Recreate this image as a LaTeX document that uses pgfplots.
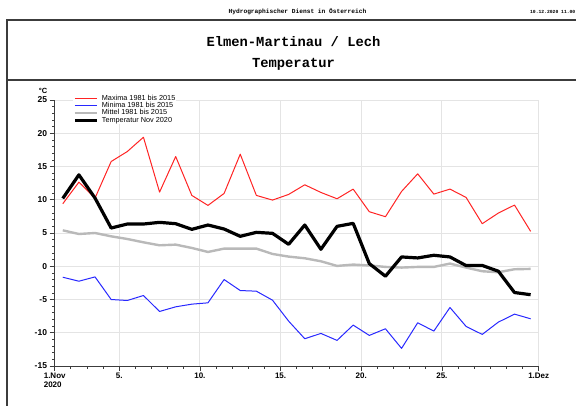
\documentclass[border=0pt]{standalone}
\usepackage{pgfplots}
\pgfplotsset{compat=1.18}
\usepackage{fontspec}
\setmainfont{Liberation Sans}
\newfontfamily\monofont{Liberation Mono}

\definecolor{maxred}{RGB}{255,35,35}
\definecolor{minblue}{RGB}{40,40,255}
\definecolor{meangray}{RGB}{185,185,185}
\definecolor{framegray}{RGB}{60,60,60}
\definecolor{gridgray}{RGB}{228,228,228}

% daily values, plotted at the middle of each day (x = day - 0.5)
\pgfplotstableread{
x     max     min     mean   temp
0.5   9.4    -1.65    5.4    10.2
1.5  12.65   -2.25    4.85   13.75
2.5  10.25   -1.6     5.0    10.25
3.5  15.75   -5.0     4.5     5.75
4.5  17.25   -5.15    4.1     6.35
5.5  19.4    -4.4     3.6     6.35
6.5  11.15   -6.8     3.15    6.6
7.5  16.5    -6.1     3.25    6.4
8.5  10.65   -5.7     2.75    5.55
9.5   9.15   -5.5     2.15    6.2
10.5 10.95   -2.0     2.65    5.6
11.5 16.85   -3.65    2.65    4.5
12.5 10.65   -3.75    2.65    5.1
13.5  9.95   -5.1     1.85    4.95
14.5 10.8    -8.25    1.45    3.3
15.5 12.25  -10.9     1.2     6.2
16.5 11.1   -10.1     0.75    2.55
17.5 10.15  -11.15    0.05    6.0
18.5 11.6    -8.85    0.25    6.45
19.5  8.2   -10.4     0.12    0.4
20.5  7.45   -9.4    -0.1    -1.5
21.5 11.25  -12.35   -0.2     1.4
22.5 13.9    -8.5    -0.1     1.25
23.5 10.85   -9.75   -0.1     1.65
24.5 11.6    -6.2     0.4     1.4
25.5 10.35   -9.05   -0.2     0.1
26.5  6.4   -10.25   -0.75    0.12
27.5  8.0    -8.4    -0.9    -0.75
28.5  9.2    -7.2    -0.45   -3.95
29.5  5.25   -7.9    -0.4    -4.28
}\tempdata

\begin{document}
\begin{tikzpicture}
\begin{axis}[
  at={(54.7pt,39pt)}, anchor=south west,
  scale only axis, width=484pt, height=266pt,
  xmin=0, xmax=30, ymin=-15, ymax=25,
  xtick={0,4,9,14,19,24,30},
  xticklabels={{1.Nov\\2020},5.,10.,15.,20.,25.,1.Dez},
  minor xtick={1,...,29},
  ytick={-15,-10,...,25},
  minor ytick={-15,...,25},
  axis x line*=bottom, axis y line*=left,
  axis line style={framegray, line width=0.9pt},
  tick align=outside,
  major tick length=5pt, minor tick length=2.5pt,
  tick style={framegray, line width=0.7pt},
  grid=major,
  major grid style={gridgray, line width=1pt},
  x tick label style={font=\bfseries\fontsize{8}{8.6}\selectfont, align=left, anchor=north, inner sep=2pt},
  y tick label style={font=\bfseries\fontsize{8.5}{9}\selectfont, inner sep=2.5pt},
  /pgf/number format/assume math mode=true,
  legend style={
    at={(axis cs:1.14,25.88)}, anchor=north west,
    draw=none, fill=white, inner sep=0pt,
    font=\fontsize{7.3}{7.3}\selectfont,
    row sep=0pt,
    nodes={inner sep=0.4pt, text height=5.3pt, text depth=1.3pt},
    /tikz/every odd column/.append style={column sep=3pt},
  },
  legend cell align=left,
  legend image code/.code={\draw[#1] (0pt,0pt) -- (22pt,0pt);},
  line join=round,
]
\addplot[maxred, line width=1pt] table[x=x, y=max] {\tempdata};
\addlegendentry{Maxima 1981 bis 2015}
\addplot[minblue, line width=1pt] table[x=x, y=min] {\tempdata};
\addlegendentry{Minima 1981 bis 2015}
\addplot[meangray, line width=2.4pt] table[x=x, y=mean] {\tempdata};
\addlegendentry{Mittel 1981 bis 2015}
\addplot[black, line width=3.2pt] table[x=x, y=temp] {\tempdata};
\addlegendentry{Temperatur Nov 2020}
\end{axis}

% page size is fixed here; the frame runs on past the right and bottom edges
\pgfresetboundingbox
\begin{scope}[x=1pt,y=1pt]
\path[use as bounding box] (0,0) rectangle (576,405);
\clip (0,0) rectangle (576,405);

% page header
\node[font=\monofont\bfseries\fontsize{6.2}{6.5}\selectfont] at (297.5,393) {Hydrographischer Dienst in Österreich};
\node[font=\monofont\bfseries\fontsize{4.7}{5}\selectfont, anchor=east, inner sep=0pt] at (575.5,393) {10.12.2020 11.00};

% frame and title block
\draw[framegray, line width=1.1pt] (7,385) rectangle (590,-10);
\draw[framegray, line width=1.1pt] (7,325) -- (590,325);
\node[font=\monofont\bfseries\fontsize{13.8}{14}\selectfont] at (293.5,363) {Elmen-Martinau / Lech};
\node[font=\monofont\bfseries\fontsize{13.8}{14}\selectfont] at (293.5,340.5) {Temperatur};

% unit label
\node[font=\bfseries\fontsize{7.5}{8}\selectfont] at (43,314) {°C};
\end{scope}
\end{tikzpicture}
\end{document}
